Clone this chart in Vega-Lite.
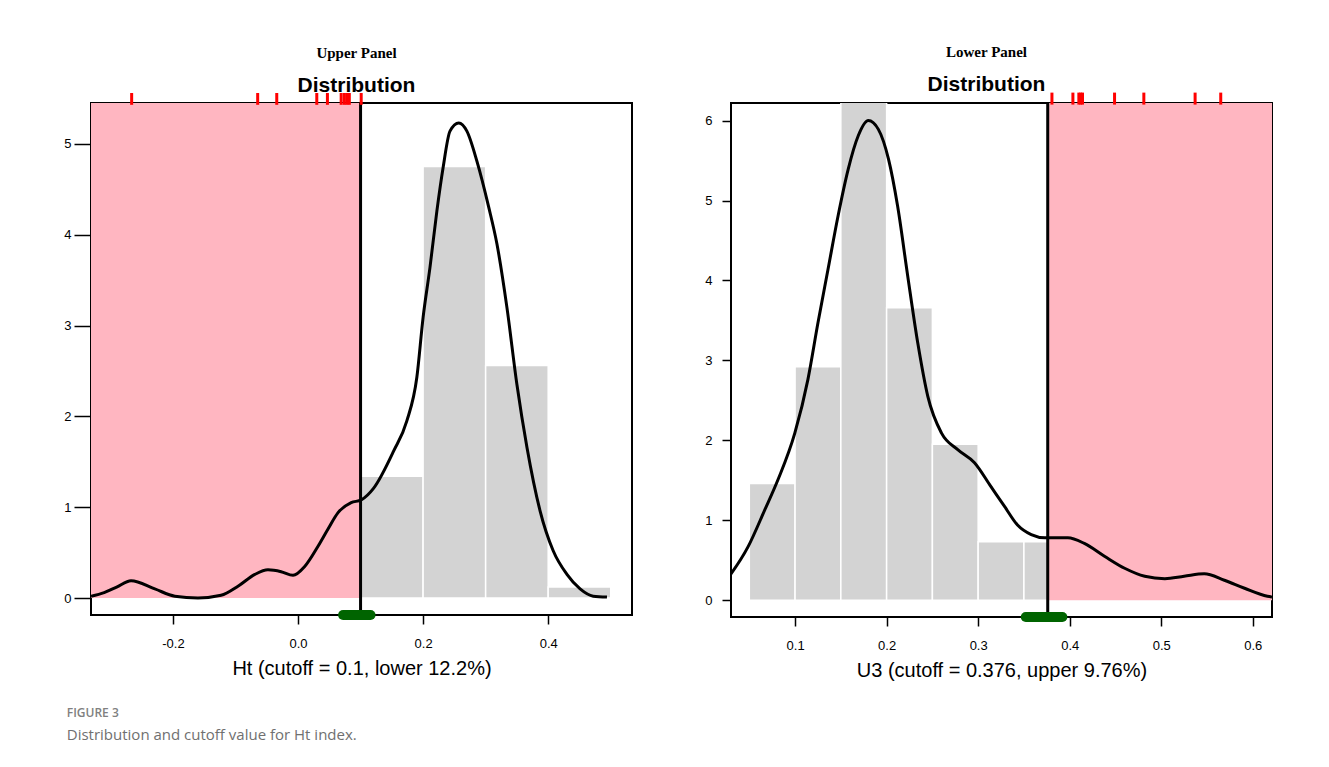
{
  "$schema": "https://vega.github.io/schema/vega-lite/v6.json",
  "padding": {"left": 62, "top": 44, "right": 10, "bottom": 10},
  "datasets": {
    "hist_upper": [
      {"b0": 0.1, "b1": 0.2, "density": 1.34},
      {"b0": 0.2, "b1": 0.3, "density": 4.75},
      {"b0": 0.3, "b1": 0.4, "density": 2.56},
      {"b0": 0.4, "b1": 0.5, "density": 0.12}
    ],
    "dens_upper": [
      {"x": -0.331, "y": 0.02}, {"x": -0.31, "y": 0.06}, {"x": -0.29, "y": 0.12}, {"x": -0.267, "y": 0.19},
      {"x": -0.229, "y": 0.10}, {"x": -0.197, "y": 0.02}, {"x": -0.16, "y": 0.0}, {"x": -0.123, "y": 0.03},
      {"x": -0.096, "y": 0.13}, {"x": -0.069, "y": 0.26}, {"x": -0.048, "y": 0.31}, {"x": -0.027, "y": 0.29},
      {"x": -0.008, "y": 0.25}, {"x": 0.011, "y": 0.35}, {"x": 0.032, "y": 0.57}, {"x": 0.048, "y": 0.76},
      {"x": 0.064, "y": 0.94}, {"x": 0.085, "y": 1.05}, {"x": 0.101, "y": 1.08}, {"x": 0.121, "y": 1.21},
      {"x": 0.153, "y": 1.62}, {"x": 0.174, "y": 1.95}, {"x": 0.19, "y": 2.43}, {"x": 0.2, "y": 3.09},
      {"x": 0.211, "y": 3.64}, {"x": 0.222, "y": 4.26}, {"x": 0.232, "y": 4.74}, {"x": 0.243, "y": 5.14},
      {"x": 0.257, "y": 5.23}, {"x": 0.27, "y": 5.14}, {"x": 0.286, "y": 4.81}, {"x": 0.305, "y": 4.30},
      {"x": 0.318, "y": 3.90}, {"x": 0.334, "y": 3.20}, {"x": 0.35, "y": 2.35}, {"x": 0.366, "y": 1.66},
      {"x": 0.387, "y": 0.96}, {"x": 0.408, "y": 0.52}, {"x": 0.43, "y": 0.26}, {"x": 0.451, "y": 0.10},
      {"x": 0.472, "y": 0.02}, {"x": 0.494, "y": 0.01}
    ],
    "rug_upper": [
      {"x": -0.266}, {"x": -0.0645}, {"x": -0.034}, {"x": 0.030}, {"x": 0.047},
      {"x": 0.069}, {"x": 0.074}, {"x": 0.078}, {"x": 0.082}, {"x": 0.101}
    ],
    "cut_upper": [{"cutoff": 0.1, "lo": 0.072, "hi": 0.116, "edge": -0.4}],
    "hist_lower": [
      {"b0": 0.05, "b1": 0.1, "density": 1.46},
      {"b0": 0.1, "b1": 0.15, "density": 2.92},
      {"b0": 0.15, "b1": 0.2, "density": 6.3},
      {"b0": 0.2, "b1": 0.25, "density": 3.66},
      {"b0": 0.25, "b1": 0.3, "density": 1.95},
      {"b0": 0.3, "b1": 0.35, "density": 0.73},
      {"b0": 0.35, "b1": 0.4, "density": 0.73}
    ],
    "dens_lower": [
      {"x": 0.027, "y": 0.28}, {"x": 0.0487, "y": 0.67}, {"x": 0.0669, "y": 1.13}, {"x": 0.0814, "y": 1.51},
      {"x": 0.0997, "y": 2.09}, {"x": 0.114, "y": 2.76}, {"x": 0.125, "y": 3.47}, {"x": 0.136, "y": 4.14},
      {"x": 0.147, "y": 4.81}, {"x": 0.158, "y": 5.39}, {"x": 0.169, "y": 5.81}, {"x": 0.18, "y": 6.0},
      {"x": 0.191, "y": 5.89}, {"x": 0.202, "y": 5.52}, {"x": 0.212, "y": 4.93}, {"x": 0.223, "y": 4.06},
      {"x": 0.234, "y": 3.22}, {"x": 0.245, "y": 2.55}, {"x": 0.26, "y": 2.09}, {"x": 0.278, "y": 1.88},
      {"x": 0.296, "y": 1.72}, {"x": 0.314, "y": 1.42}, {"x": 0.329, "y": 1.17}, {"x": 0.343, "y": 0.94},
      {"x": 0.358, "y": 0.82}, {"x": 0.373, "y": 0.78}, {"x": 0.398, "y": 0.78}, {"x": 0.416, "y": 0.71},
      {"x": 0.438, "y": 0.55}, {"x": 0.46, "y": 0.40}, {"x": 0.482, "y": 0.30}, {"x": 0.504, "y": 0.27},
      {"x": 0.525, "y": 0.30}, {"x": 0.547, "y": 0.33}, {"x": 0.569, "y": 0.25}, {"x": 0.591, "y": 0.15},
      {"x": 0.616, "y": 0.05}, {"x": 0.621, "y": 0.04}
    ],
    "rug_lower": [
      {"x": 0.3806}, {"x": 0.4035}, {"x": 0.410}, {"x": 0.412}, {"x": 0.414},
      {"x": 0.449}, {"x": 0.481}, {"x": 0.537}, {"x": 0.565}
    ],
    "cut_lower": [{"cutoff": 0.376, "lo": 0.352, "hi": 0.392, "edge": 0.7}]
  },
  "title": {
    "text": "FIGURE 3",
    "subtitle": "Distribution and cutoff value for Ht index.",
    "orient": "bottom",
    "anchor": "start",
    "dx": 4,
    "offset": 27,
    "font": "Open Sans",
    "fontSize": 12,
    "fontWeight": 600,
    "color": "#808080",
    "subtitleFont": "Open Sans",
    "subtitleFontSize": 15,
    "subtitleColor": "#707070",
    "subtitlePadding": 8
  },
  "spacing": 70,
  "hconcat": [
    {
      "width": 541,
      "height": 512,
      "title": {
        "text": "Upper Panel",
        "subtitle": "Distribution",
        "anchor": "middle",
        "dx": -5,
        "font": "Liberation Serif",
        "fontSize": 15,
        "fontWeight": "bold",
        "color": "black",
        "subtitleFont": "Liberation Sans",
        "subtitleFontSize": 21,
        "subtitleFontWeight": "bold",
        "subtitleColor": "black",
        "subtitlePadding": 14,
        "offset": -4
      },
      "layer": [
        {
          "data": {"name": "hist_upper"},
          "mark": {"type": "rect", "color": "#D3D3D3", "stroke": "white", "strokeWidth": 1.5, "clip": true},
          "encoding": {
            "x": {"field": "b0", "type": "quantitative", "title": "Ht (cutoff = 0.1, lower 12.2%)",
                  "scale": {"domain": [-0.331, 0.534], "nice": false, "zero": false},
                  "axis": {"values": [-0.2, 0.0, 0.2, 0.4], "labelExpr": "replace(format(datum.value, '.1f'), '\u2212', '-')", "tickSize": 9, "labelPadding": 13, "titlePadding": 8}},
            "x2": {"field": "b1"},
            "y": {"field": "density", "type": "quantitative", "title": null,
                  "scale": {"domain": [-0.187, 5.45], "nice": false, "zero": false},
                  "axis": {"values": [0, 1, 2, 3, 4, 5], "format": "d", "tickSize": 17, "labelPadding": 3}},
            "y2": {"datum": 0}
          }
        },
        {
          "data": {"name": "cut_upper"},
          "mark": {"type": "rect", "color": "#FFB6C1", "clip": true},
          "encoding": {
            "x": {"field": "edge", "type": "quantitative", "title": "Ht (cutoff = 0.1, lower 12.2%)"},
            "x2": {"field": "cutoff"},
            "y": {"datum": 0, "type": "quantitative", "title": null},
            "y2": {"datum": 5.45}
          }
        },
        {
          "data": {"name": "dens_upper"},
          "mark": {"type": "line", "color": "black", "strokeWidth": 3, "interpolate": "monotone", "clip": true},
          "encoding": {
            "x": {"field": "x", "type": "quantitative", "title": "Ht (cutoff = 0.1, lower 12.2%)"},
            "y": {"field": "y", "type": "quantitative", "title": null}
          }
        },
        {
          "data": {"name": "cut_upper"},
          "mark": {"type": "rule", "color": "black", "strokeWidth": 3},
          "encoding": {
            "x": {"field": "cutoff", "type": "quantitative", "title": "Ht (cutoff = 0.1, lower 12.2%)"},
            "y": {"datum": -0.187, "type": "quantitative", "title": null},
            "y2": {"datum": 5.45}
          }
        },
        {
          "data": {"name": "cut_upper"},
          "mark": {"type": "rule", "color": "#006400", "strokeWidth": 10, "strokeCap": "round", "clip": false},
          "encoding": {
            "x": {"field": "lo", "type": "quantitative", "title": "Ht (cutoff = 0.1, lower 12.2%)"},
            "x2": {"field": "hi"},
            "y": {"datum": -0.187, "type": "quantitative", "title": null}
          }
        },
        {
          "data": {"name": "rug_upper"},
          "mark": {"type": "rule", "color": "#FF0000", "strokeWidth": 3, "clip": false},
          "encoding": {
            "x": {"field": "x", "type": "quantitative", "title": "Ht (cutoff = 0.1, lower 12.2%)"},
            "y": {"datum": 5.43, "type": "quantitative", "title": null},
            "y2": {"datum": 5.56}
          }
        }
      ]
    },
    {
      "width": 541,
      "height": 514,
      "title": {
        "text": "Lower Panel",
        "subtitle": "Distribution",
        "anchor": "middle",
        "dx": -15,
        "font": "Liberation Serif",
        "fontSize": 15,
        "fontWeight": "bold",
        "color": "black",
        "subtitleFont": "Liberation Sans",
        "subtitleFontSize": 21,
        "subtitleFontWeight": "bold",
        "subtitleColor": "black",
        "subtitlePadding": 14,
        "offset": -4
      },
      "layer": [
        {
          "data": {"name": "hist_lower"},
          "mark": {"type": "rect", "color": "#D3D3D3", "stroke": "white", "strokeWidth": 1.5, "clip": true},
          "encoding": {
            "x": {"field": "b0", "type": "quantitative", "title": "U3 (cutoff = 0.376, upper 9.76%)",
                  "scale": {"domain": [0.030, 0.621], "nice": false, "zero": false},
                  "axis": {"values": [0.1, 0.2, 0.3, 0.4, 0.5, 0.6], "format": ".1f", "tickSize": 9, "labelPadding": 13, "titlePadding": 8}},
            "x2": {"field": "b1"},
            "y": {"field": "density", "type": "quantitative", "title": null,
                  "scale": {"domain": [-0.21, 6.22], "nice": false, "zero": false},
                  "axis": {"values": [0, 1, 2, 3, 4, 5, 6], "format": "d", "tickSize": 9, "labelPadding": 10}},
            "y2": {"datum": 0}
          }
        },
        {
          "data": {"name": "cut_lower"},
          "mark": {"type": "rect", "color": "#FFB6C1", "clip": true},
          "encoding": {
            "x": {"field": "cutoff", "type": "quantitative", "title": "U3 (cutoff = 0.376, upper 9.76%)"},
            "x2": {"field": "edge"},
            "y": {"datum": 0, "type": "quantitative", "title": null},
            "y2": {"datum": 6.22}
          }
        },
        {
          "data": {"name": "dens_lower"},
          "mark": {"type": "line", "color": "black", "strokeWidth": 3, "interpolate": "monotone", "clip": true},
          "encoding": {
            "x": {"field": "x", "type": "quantitative", "title": "U3 (cutoff = 0.376, upper 9.76%)"},
            "y": {"field": "y", "type": "quantitative", "title": null}
          }
        },
        {
          "data": {"name": "cut_lower"},
          "mark": {"type": "rule", "color": "black", "strokeWidth": 3},
          "encoding": {
            "x": {"field": "cutoff", "type": "quantitative", "title": "U3 (cutoff = 0.376, upper 9.76%)"},
            "y": {"datum": -0.21, "type": "quantitative", "title": null},
            "y2": {"datum": 6.22}
          }
        },
        {
          "data": {"name": "cut_lower"},
          "mark": {"type": "rule", "color": "#006400", "strokeWidth": 10, "strokeCap": "round", "clip": false},
          "encoding": {
            "x": {"field": "lo", "type": "quantitative", "title": "U3 (cutoff = 0.376, upper 9.76%)"},
            "x2": {"field": "hi"},
            "y": {"datum": -0.21, "type": "quantitative", "title": null}
          }
        },
        {
          "data": {"name": "rug_lower"},
          "mark": {"type": "rule", "color": "#FF0000", "strokeWidth": 3, "clip": false},
          "encoding": {
            "x": {"field": "x", "type": "quantitative", "title": "U3 (cutoff = 0.376, upper 9.76%)"},
            "y": {"datum": 6.2, "type": "quantitative", "title": null},
            "y2": {"datum": 6.35}
          }
        }
      ]
    }
  ],
  "config": {
    "font": "Liberation Sans",
    "view": {"stroke": "black", "strokeWidth": 2},
    "axis": {
      "domain": false,
      "grid": false,
      "labelFont": "Liberation Sans",
      "labelFontSize": 13,
      "labelColor": "black",
      "tickColor": "black",
      "tickWidth": 1.5,
      "titleFont": "Liberation Sans",
      "titleFontSize": 20,
      "titleFontWeight": "normal",
      "titleColor": "black"
    }
  }
}
